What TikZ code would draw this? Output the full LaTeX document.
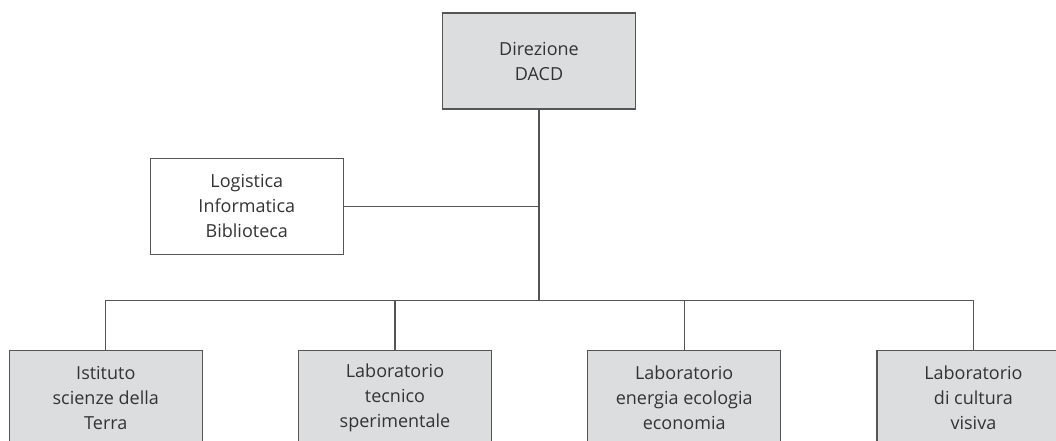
\documentclass[tikz,border=0pt]{standalone}
\usepackage{fontspec}
\setmainfont{Open Sans}
\usepackage{tikz}
\usetikzlibrary{positioning,calc}
\definecolor{boxgray}{HTML}{DCDDDF}
\definecolor{linegray}{HTML}{555555}
\definecolor{textgray}{HTML}{333333}
\tikzset{
    unit/.style={draw=linegray, line width=0.9pt, fill=boxgray, text=textgray,
        minimum width=144.75pt, minimum height=72pt, align=center,
        font=\fontsize{13.5}{18.75}\selectfont, inner sep=0pt},
    staff/.style={unit, fill=white},
    link/.style={draw=linegray, line width=0.9pt}
}

\begin{document}
\begin{tikzpicture}[x=0.75pt, y=0.75pt, node distance=71.25pt]
            \useasboundingbox (0,0) rectangle (1056,-441);
            \node[unit] (dir) at (539,-61) {Direzione\\DACD};
            \node[staff, below left=36pt and 73.5pt of dir] (log) {Logistica\\Informatica\\Biblioteca};
            \node[unit, below left=180pt and 179.25pt of dir] (ist) {Istituto\\scienze della\\Terra};
            \node[unit, right=of ist] (tec) {Laboratorio\\tecnico\\sperimentale};
            \node[unit, right=of tec] (ene) {Laboratorio\\energia ecologia\\economia};
            \node[unit, right=of ene] (vis) {Laboratorio\\di cultura\\visiva};
            \coordinate (bus) at ($(dir.south)+(0,-191)$);
            \draw[link] (dir.south) -- (bus);
            \draw[link] (log.east) -- (log.east -| dir.south);
            \draw[link] (ist.north) -- (ist.north |- bus) -- (vis.north |- bus) -- (vis.north);
            \foreach \n in {tec,ene}
                \draw[link] (\n.north) -- (\n.north |- bus);
        \end{tikzpicture}
\end{document}
